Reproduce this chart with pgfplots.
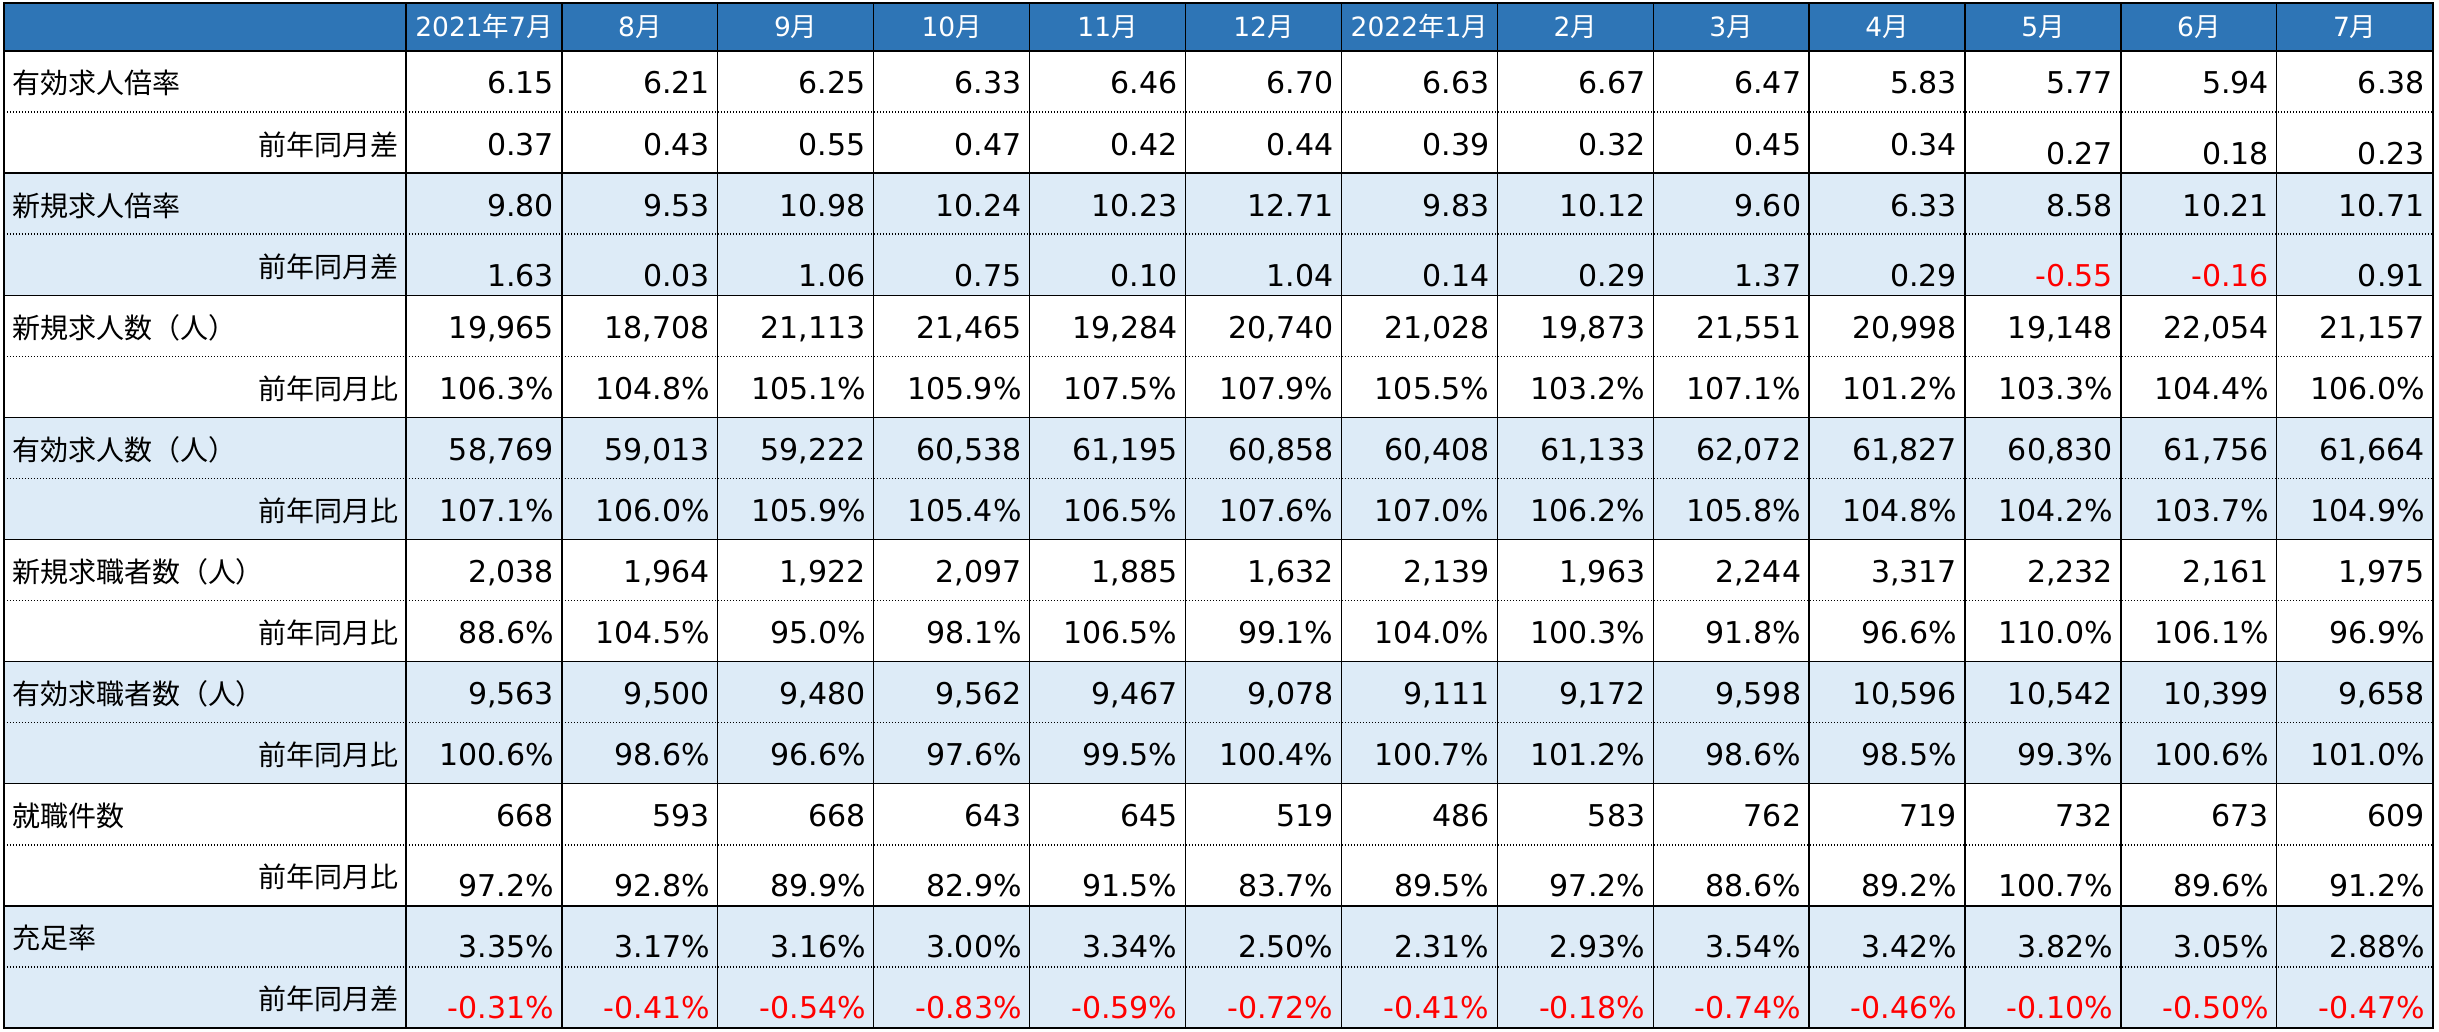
\documentclass[border=0pt]{standalone}
\usepackage{pgfplots}
\pgfplotsset{compat=1.18}
\usepackage{pgfplotstable}
\usepackage{fontspec}
\setmainfont{DejaVu Sans}
\newfontfamily\cjk{Noto Sans CJK JP}
\newcommand\J[1]{{\cjk #1}}
\definecolor{hdrblue}{RGB}{46,117,182}
\definecolor{lightrow}{RGB}{221,235,247}

\pgfplotstableread{
m r1 r2 o2 r3 r4 r5 r6 r7 r8 r9 r10 r11 r12 r13 r14 r15 r16
0 6.15 0.37 0 9.80 1.63 19965 106.3 58769 107.1 2038 88.6 9563 100.6 668 97.2 3.35 -0.31
1 6.21 0.43 0 9.53 0.03 18708 104.8 59013 106.0 1964 104.5 9500 98.6 593 92.8 3.17 -0.41
2 6.25 0.55 0 10.98 1.06 21113 105.1 59222 105.9 1922 95.0 9480 96.6 668 89.9 3.16 -0.54
3 6.33 0.47 0 10.24 0.75 21465 105.9 60538 105.4 2097 98.1 9562 97.6 643 82.9 3.00 -0.83
4 6.46 0.42 0 10.23 0.10 19284 107.5 61195 106.5 1885 106.5 9467 99.5 645 91.5 3.34 -0.59
5 6.70 0.44 0 12.71 1.04 20740 107.9 60858 107.6 1632 99.1 9078 100.4 519 83.7 2.50 -0.72
6 6.63 0.39 0 9.83 0.14 21028 105.5 60408 107.0 2139 104.0 9111 100.7 486 89.5 2.31 -0.41
7 6.67 0.32 0 10.12 0.29 19873 103.2 61133 106.2 1963 100.3 9172 101.2 583 97.2 2.93 -0.18
8 6.47 0.45 0 9.60 1.37 21551 107.1 62072 105.8 2244 91.8 9598 98.6 762 88.6 3.54 -0.74
9 5.83 0.34 0 6.33 0.29 20998 101.2 61827 104.8 3317 96.6 10596 98.5 719 89.2 3.42 -0.46
10 5.77 0.27 9 8.58 -0.55 19148 103.3 60830 104.2 2232 110.0 10542 99.3 732 100.7 3.82 -0.10
11 5.94 0.18 9 10.21 -0.16 22054 104.4 61756 103.7 2161 106.1 10399 100.6 673 89.6 3.05 -0.50
12 6.38 0.23 9 10.71 0.91 21157 106.0 61664 104.9 1975 96.9 9658 101.0 609 91.2 2.88 -0.47
}\datatable

\pgfplotsset{
  cell/.style={draw=none, mark=none, point meta=explicit symbolic,
    nodes near coords align={anchor=base east},
    every node near coord/.append style={anchor=base east, inner sep=0pt, outer sep=0pt,
      font=\fontsize{9}{10.8}\selectfont, text=black}},
  lab/.style={draw=none, mark=none, point meta=explicit symbolic,
    nodes near coords={\pgfplotspointmeta},
    nodes near coords align={anchor=base #1},
    every node near coord/.append style={anchor=base #1, inner sep=0pt, outer sep=0pt,
      font=\cjk\fontsize{8.4}{10}\selectfont, text=black}},
}
\tikzset{
  gridl/.style={line width=0.4pt, black},
  dotl/.style={line width=0.45pt, black, dash pattern=on 0.45pt off 0.45pt},
}

% small values: negatives in red
\newcommand\valrow[4]{%
  \addplot[cell, nodes near coords={\ifdim\pgfplotspointmeta pt<0pt\color{red}\fi\pgfmathprintnumber[#3]{\pgfplotspointmeta}#4}]
    table[x expr={553.9+155.9*\thisrow{m}}, y expr={#2}, meta=#1]{\datatable};}
% large counts
\newcommand\introw[2]{%
  \addplot[cell, nodes near coords={\pgfmathprintnumber[fixed,precision=0,1000 sep={,}]{\pgfplotspointmeta}}]
    table[x expr={553.9+155.9*\thisrow{m}}, y expr={#2}, meta=#1]{\datatable};}

\begin{document}
\begin{tikzpicture}
\begin{axis}[
  scale only axis, width=731.7pt, height=309.6pt,
  xmin=0, xmax=2439, ymin=0, ymax=1032, y dir=reverse,
  hide axis, clip=false,
  /pgf/number format/assume math mode=true,
]
\path (axis cs:0,0) rectangle (axis cs:2439,1032);
% backgrounds
\fill[hdrblue] (axis cs:4,3) rectangle (axis cs:2433,51);
\fill[lightrow] (axis cs:4,173.12) rectangle (axis cs:2433,295.24);
\fill[lightrow] (axis cs:4,417.36) rectangle (axis cs:2433,539.48);
\fill[lightrow] (axis cs:4,661.60) rectangle (axis cs:2433,783.72);
\fill[lightrow] (axis cs:4,905.84) rectangle (axis cs:2433,1028);
% grid
\pgfplotsinvokeforeach{51,173.12,295.24,417.36,539.48,661.60,783.72,905.84}{
  \draw[gridl] (axis cs:4,#1) -- (axis cs:2433,#1);}
\pgfplotsinvokeforeach{112.06,234.18,356.30,478.42,600.54,722.66,844.78,966.90}{
  \draw[dotl] (axis cs:4,#1) -- (axis cs:2433,#1);}
\pgfplotsinvokeforeach{406,561.9,717.8,873.7,1029.6,1185.5,1341.4,1497.3,1653.2,1809.1,1965,2120.9,2276.8}{
  \draw[gridl] (axis cs:#1,3) -- (axis cs:#1,1028);}
\draw[line width=0.5pt, black] (axis cs:4,3) rectangle (axis cs:2433,1028);

% header
\addplot[draw=none, mark=none, point meta=explicit symbolic,
  nodes near coords={\pgfplotspointmeta},
  nodes near coords align={anchor=base},
  every node near coord/.append style={anchor=base, inner sep=0pt, outer sep=0pt,
    font=\fontsize{7.95}{9}\selectfont, text=white}]
  coordinates {(483.95,37)[2021\J{年}7\J{月}] (639.85,37)[8\J{月}] (795.75,37)[9\J{月}]
    (951.65,37)[10\J{月}] (1107.55,37)[11\J{月}] (1263.45,37)[12\J{月}]
    (1419.35,37)[2022\J{年}1\J{月}] (1575.25,37)[2\J{月}] (1731.15,37)[3\J{月}]
    (1887.05,37)[4\J{月}] (2042.95,37)[5\J{月}] (2198.85,37)[6\J{月}] (2354.75,37)[7\J{月}]};

% row labels
\addplot[lab=west] coordinates {(12,94)[有効求人倍率] (12,216.12)[新規求人倍率]
  (12,338.24)[新規求人数（人）] (12,460.36)[有効求人数（人）] (12,582.48)[新規求職者数（人）]
  (12,704.60)[有効求職者数（人）] (12,826.72)[就職件数] (12,948.84)[充足率]};
\addplot[lab=east] coordinates {(398,155.06)[前年同月差] (398,277.18)[前年同月差]
  (398,399.30)[前年同月比] (398,521.42)[前年同月比] (398,643.54)[前年同月比]
  (398,765.66)[前年同月比] (398,887.78)[前年同月比] (398,1009.90)[前年同月差]};

% values
\valrow{r1}{94}{fixed,precision=2,zerofill}{}
\valrow{r2}{155.06+\thisrow{o2}}{fixed,precision=2,zerofill}{}
\valrow{r3}{216.12}{fixed,precision=2,zerofill}{}
\valrow{r4}{286.18}{fixed,precision=2,zerofill}{}
\introw{r5}{338.24}
\valrow{r6}{399.30}{fixed,precision=1,zerofill}{\%}
\introw{r7}{460.36}
\valrow{r8}{521.42}{fixed,precision=1,zerofill}{\%}
\introw{r9}{582.48}
\valrow{r10}{643.54}{fixed,precision=1,zerofill}{\%}
\introw{r11}{704.60}
\valrow{r12}{765.66}{fixed,precision=1,zerofill}{\%}
\introw{r13}{826.72}
\valrow{r14}{896.78}{fixed,precision=1,zerofill}{\%}
\valrow{r15}{957.84}{fixed,precision=2,zerofill}{\%}
\valrow{r16}{1018.90}{fixed,precision=2,zerofill}{\%}
\end{axis}
\end{tikzpicture}
\end{document}
